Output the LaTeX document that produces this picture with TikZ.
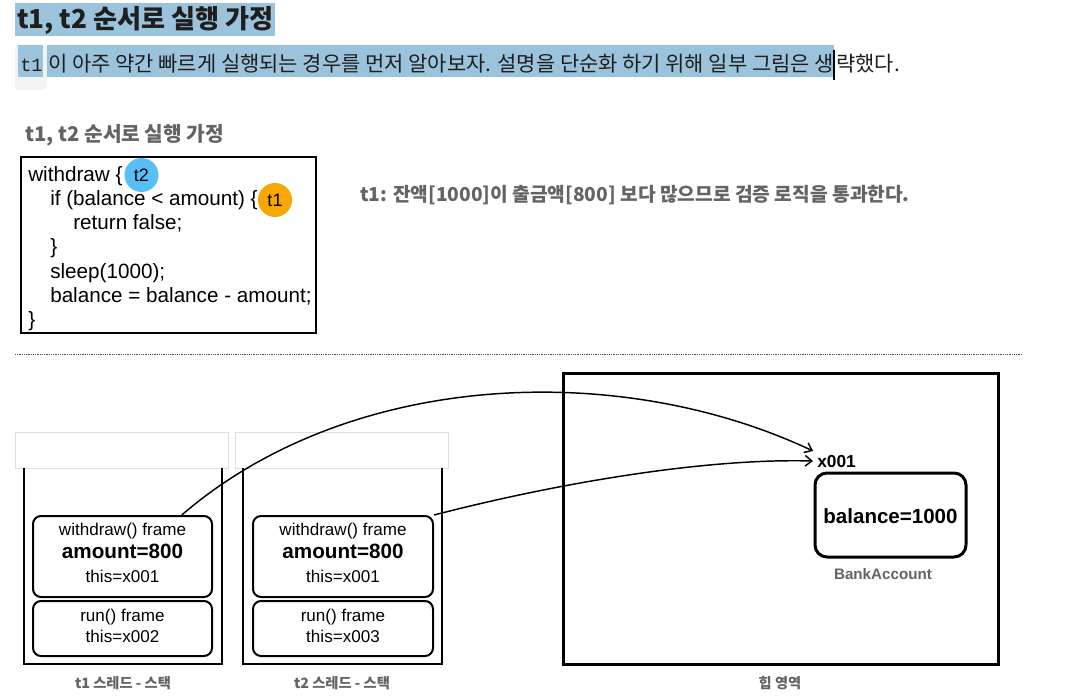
\documentclass[tikz,border=0pt]{standalone}
\usepackage{fontspec}
\setmainfont{Liberation Sans}
\newfontfamily\kr{Noto Sans CJK KR}
\newfontfamily\mono{Liberation Mono}
\usetikzlibrary{arrows.meta}
\pgfdeclarelayer{bg}
\pgfsetlayers{bg,main}
\definecolor{hl}{RGB}{156,195,220}
\definecolor{txtgray}{RGB}{100,100,100}
\definecolor{codebg}{RGB}{242,243,244}
\definecolor{hdrgray}{RGB}{221,221,221}
\definecolor{tblue}{RGB}{88,190,246}
\definecolor{torange}{RGB}{247,168,0}
\definecolor{ink}{RGB}{30,30,30}
\tikzset{
  txt/.style={inner sep=0pt, anchor=base west},
  ctr/.style={inner sep=0pt, anchor=base},
  frame/.style={draw, line width=1.5pt, rounded corners=6pt, minimum width=134.25pt, inner sep=0pt},
  wall/.style={line width=1.5pt},
  hdr/.style={draw=hdrgray, line width=0.6pt, fill=white, minimum width=159.75pt, minimum height=27pt, inner sep=0pt},
  tcircle/.style={circle, minimum size=25.5pt, inner sep=0pt, font=\fontsize{13.5}{13.5}\selectfont},
  ref/.style={line width=1.1pt, -{Straight Barb[length=5pt,width=8pt]}},
  codef/.style={font=\fontsize{15.5}{15.5}\selectfont},
  glabel/.style={font=\kr\bfseries\fontsize{10.7}{10.7}\selectfont, text=txtgray},
  line2f/.style={font=\kr\fontsize{15.7}{15.7}\selectfont, text=ink}
}
\begin{document}
\begin{tikzpicture}[x=0.75pt,y=-0.75pt]
\useasboundingbox (0,0) rectangle (1070,696);
\begin{pgfonlayer}{bg}
\fill[white] (0,0) rectangle (1070,696);
\end{pgfonlayer}

% title
\fill[hl] (15,3) rectangle (275,36);
\node[txt, font=\kr\bfseries\fontsize{19.6}{19.6}\selectfont, text=ink] (title) at (17,28) {t1, t2 순서로 실행 가정};

% second line
\node[txt, line2f] (line2a) at (48,71) {이 아주 약간 빠르게 실행되는 경우를 먼저 알아보자. 설명을 단순화 하기 위해 일부 그림은 생};
\node[txt, line2f] (line2b) at ([xshift=1.5pt]line2a.base east) {략했다.};
\node[txt, font=\mono\fontsize{14}{14}\selectfont, text=ink] (code1) at (20,71) {t1};
\begin{pgfonlayer}{bg}
\fill[codebg, rounded corners=3pt] (15,45) rectangle (47,90);
\fill[hl] (18,45) rectangle (43,77);
\fill[hl] (47,45) rectangle (line2a.east |- 0,77);
\end{pgfonlayer}
\fill[black] ([xshift=-0.9pt]line2a.east |- 0,50) rectangle ([xshift=0.9pt]line2a.east |- 0,80);

% subtitle
\node[txt, font=\kr\bfseries\fontsize{15.2}{15.2}\selectfont, text=txtgray] (sub) at (25,141) {t1, t2 순서로 실행 가정};

% code box
\node[draw, line width=1pt, minimum width=221.25pt, minimum height=132pt, inner sep=0pt] (codebox) at (168.5,245) {};
\node[txt, codef] (c1) at (28,181) {withdraw \{};
\node[txt, codef] (c2) at (50,205.3) {if (balance < amount) \{};
\node[txt, codef] (c3) at (73,229.6) {return false;};
\node[txt, codef] (c4) at (50,253.9) {\}};
\node[txt, codef] (c5) at (50,278.2) {sleep(1000);};
\node[txt, codef] (c6) at (50,302.5) {balance = balance - amount;};
\node[txt, codef] (c7) at (28,326.8) {\}};
\node[tcircle, fill=tblue] (t2c) at (141.5,175) {t2};
\node[tcircle, fill=torange] (t1c) at (275,200) {t1};

% explanation
\node[txt, font=\kr\bfseries\fontsize{14.4}{14.4}\selectfont, text=txtgray] (expl) at (360,201) {t1: 잔액[1000]이 출금액[800] 보다 많으므로 검증 로직을 통과한다.};

% dotted separator
\draw[dash pattern=on 0.75pt off 0.6pt, line width=0.6pt, black!70] (15,354) -- (1023,354);

% stack 1
\node[hdr] (h1) at (122,450) {};
\draw[wall] (24,468) -- (24,664) -- (222,664) -- (222,468);
\node[frame, minimum height=60.75pt] (w1) at (122.5,556.5) {};
\node[frame, minimum height=41.25pt] (r1) at (122.5,628.5) {};
\node[ctr, font=\fontsize{12.8}{12.8}\selectfont] (w1a) at (122.5,535) {withdraw() frame};
\node[ctr, font=\bfseries\fontsize{15.5}{15.5}\selectfont] (w1b) at (122.5,558) {amount=800};
\node[ctr, font=\fontsize{12.8}{12.8}\selectfont] (w1c) at (122.5,582) {this=x001};
\node[ctr, font=\fontsize{12.8}{12.8}\selectfont] (r1a) at (122.5,621) {run() frame};
\node[ctr, font=\fontsize{12.8}{12.8}\selectfont] (r1b) at (122.5,642) {this=x002};
\node[ctr, glabel] (s1) at (123,688) {t1 스레드 - 스택};

% stack 2
\node[hdr] (h2) at (342,450) {};
\draw[wall] (243,468) -- (243,664) -- (442,664) -- (442,468);
\node[frame, minimum height=60.75pt, minimum width=135pt] (w2) at (343,556.5) {};
\node[frame, minimum height=41.25pt, minimum width=135pt] (r2) at (343,628.5) {};
\node[ctr, font=\fontsize{12.8}{12.8}\selectfont] (w2a) at (343,535) {withdraw() frame};
\node[ctr, font=\bfseries\fontsize{15.5}{15.5}\selectfont] (w2b) at (343,558) {amount=800};
\node[ctr, font=\fontsize{12.8}{12.8}\selectfont] (w2c) at (343,582) {this=x001};
\node[ctr, font=\fontsize{12.8}{12.8}\selectfont] (r2a) at (343,621) {run() frame};
\node[ctr, font=\fontsize{12.8}{12.8}\selectfont] (r2b) at (343,642) {this=x003};
\node[ctr, glabel] (s2) at (342,688) {t2 스레드 - 스택};

% heap
\node[draw, line width=2.25pt, minimum width=326.25pt, minimum height=218.25pt, inner sep=0pt] (heap) at (780.5,518.5) {};
\node[ctr, glabel] (hl) at (780,688) {힙 영역};
\node[draw, line width=2.25pt, rounded corners=9pt, minimum width=113.25pt, minimum height=63pt, inner sep=0pt] (bank) at (890.5,515) {};
\node[ctr, font=\bfseries\fontsize{15.4}{15.4}\selectfont] (bal) at (890.5,523) {balance=1000};
\node[ctr, font=\bfseries\fontsize{11.4}{11.4}\selectfont, text=txtgray] (bname) at (883,579) {BankAccount};
\node[txt, font=\bfseries\fontsize{13}{13}\selectfont] (x001) at (817,467) {x001};
\coordinate (in1) at (813,451);
\coordinate (in2) at (813,461);

% references
\draw[ref] (w1.35) .. controls (350,370) and (620,360) .. (in1);
\draw[ref] (w2.north east) .. controls (550,485) and (700,458) .. (in2);
\end{tikzpicture}
\end{document}
